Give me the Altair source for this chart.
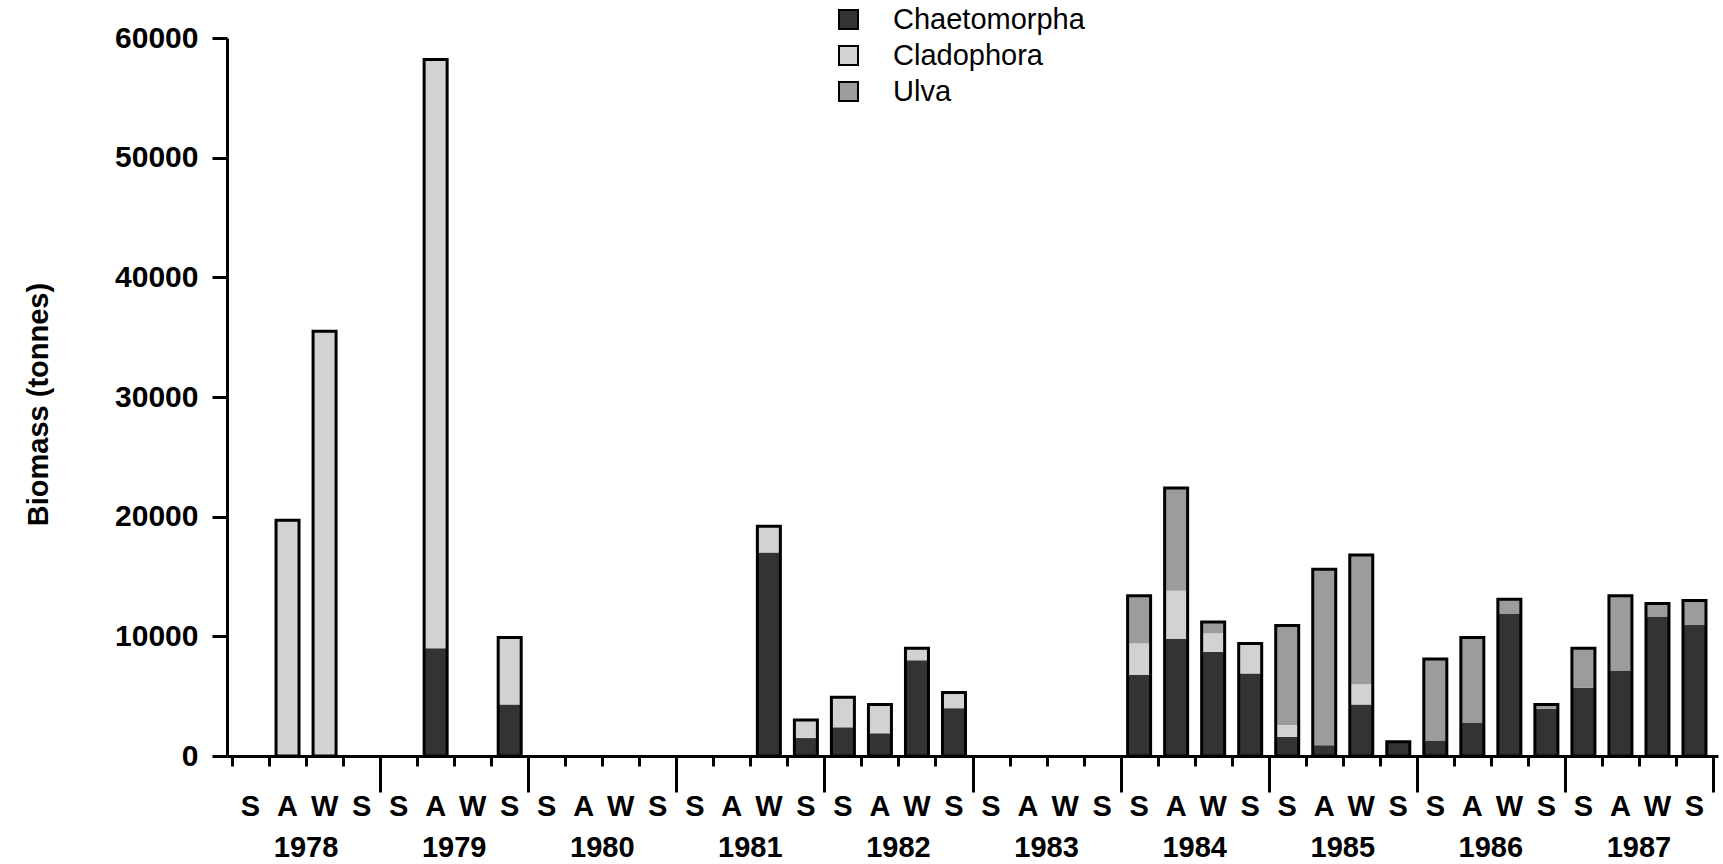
import altair as alt
import pandas as pd

# ---------------- data ----------------
years = [1978, 1979, 1980, 1981, 1982, 1983, 1984, 1985, 1986, 1987]
seasons = ["S", "A", "W", "S"]
species = ["Chaetomorpha", "Cladophora", "Ulva"]

chaetomorpha = [
    0, 0, 0, 0,            # 1978
    0, 9000, 0, 4300,      # 1979
    0, 0, 0, 0,            # 1980
    0, 0, 17000, 1500,     # 1981
    2400, 1900, 8000, 4000,  # 1982
    0, 0, 0, 0,            # 1983
    6800, 9800, 8700, 6900,  # 1984
    1600, 900, 4300, 1200,   # 1985
    1300, 2800, 11900, 3950,  # 1986
    5700, 7150, 11650, 10950,  # 1987
]
cladophora = [
    0, 19700, 35500, 0,
    0, 49200, 0, 5600,
    0, 0, 0, 0,
    0, 0, 2200, 1500,
    2500, 2400, 1000, 1300,
    0, 0, 0, 0,
    2600, 4000, 1550, 2500,
    1000, 0, 1700, 0,
    0, 0, 0, 0,
    0, 0, 0, 0,
]
ulva = [
    0, 0, 0, 0,
    0, 0, 0, 0,
    0, 0, 0, 0,
    0, 0, 0, 0,
    0, 0, 0, 0,
    0, 0, 0, 0,
    4000, 8600, 950, 0,
    8300, 14700, 10800, 0,
    6800, 7100, 1200, 350,
    3300, 6250, 1100, 2050,
]
y_ticks = [0, 10000, 20000, 30000, 40000, 50000, 60000]

# ---------------- tables ----------------
series = [chaetomorpha, cladophora, ulva]
rows = []
for i in range(len(years) * len(seasons)):
    for k, name in enumerate(species):
        rows.append({"slot": i, "species": name, "ord": k, "value": series[k][i]})
df = pd.DataFrame(rows)

n_slots = len(years) * len(seasons)
season_df = pd.DataFrame({"slot": list(range(n_slots)),
                          "season": [seasons[i % 4] for i in range(n_slots)]})
year_df = pd.DataFrame({"year": [str(y) for y in years], "yi": list(range(len(years)))})

FONT = "Liberation Sans"
W, H = 1491, 718
colors = ["#333333", "#d2d2d2", "#9c9c9c"]

x_scale = alt.Scale(domain=[0, n_slots], nice=False, zero=False)
y_scale = alt.Scale(domain=[0, 60000], nice=False)

x_axis = alt.Axis(
    values=list(range(n_slots + 1)), labels=False, title=None, grid=False,
    tickSize={"condition": {"test": "datum.value % 4 === 0 && datum.value > 0", "value": 36},
              "value": 10},
    tickWidth=3, tickColor="black", domainColor="black", domainWidth=3,
)
y_axis = alt.Axis(
    values=y_ticks, title="Biomass (tonnes)", grid=False, format="d",
    labelFont=FONT, labelFontSize=30, labelFontWeight="bold", labelColor="black",
    labelPadding=14, tickSize=15, tickWidth=3, tickColor="black",
    domainColor="black", domainWidth=3,
    titleFont=FONT, titleFontSize=29, titleFontWeight="bold", titleColor="black",
    titleX=-189, titleY=366, titleAngle=270, titleAlign="center", titleBaseline="middle",
)

X = alt.X("xc:Q", scale=x_scale, axis=x_axis)

segments = alt.Chart(df).transform_filter("datum.value > 0").transform_calculate(
    xc="datum.slot + 0.5"
).mark_bar(size=23).encode(
    x=X,
    y=alt.Y("value:Q", stack="zero", scale=y_scale, axis=y_axis),
    color=alt.Color(
        "species:N",
        scale=alt.Scale(domain=species, range=colors),
        legend=alt.Legend(
            title=None, orient="none", legendX=607, legendY=-33,
            symbolType="square", symbolSize=361, symbolStrokeColor="black",
            symbolStrokeWidth=2, labelFont=FONT, labelFontSize=29, labelColor="black",
            labelOffset=30, labelLimit=0, rowPadding=6, padding=0,
        ),
    ),
    order=alt.Order("ord:Q"),
)

outline = alt.Chart(df).transform_aggregate(
    total="sum(value)", groupby=["slot"]
).transform_filter("datum.total > 0").transform_calculate(
    xc="datum.slot + 0.5"
).mark_bar(size=23, fillOpacity=0, stroke="black", strokeWidth=3).encode(
    x=X,
    y=alt.Y("total:Q", scale=y_scale, axis=y_axis),
)

season_text = alt.Chart(season_df).transform_calculate(
    xc="datum.slot + 0.5"
).mark_text(font=FONT, fontSize=29, fontWeight="bold", baseline="middle",
            color="black").encode(
    x=X, y=alt.value(H + 51), text="season:N"
)

year_text = alt.Chart(year_df).transform_calculate(
    xc="datum.yi * 4 + 2"
).mark_text(font=FONT, fontSize=29, fontWeight="bold", baseline="middle",
            color="black").encode(
    x=X, y=alt.value(H + 92), text="year:N"
)

chart = alt.layer(segments, outline, season_text, year_text).properties(
    width=W, height=H,
    autosize=alt.AutoSizeParams(type="none"),
    padding={"left": 227, "top": 38, "right": 5, "bottom": 108},
    background="white",
).configure_view(stroke=None)

chart.save("out.html", embed_options={"renderer": "svg", "actions": False})
